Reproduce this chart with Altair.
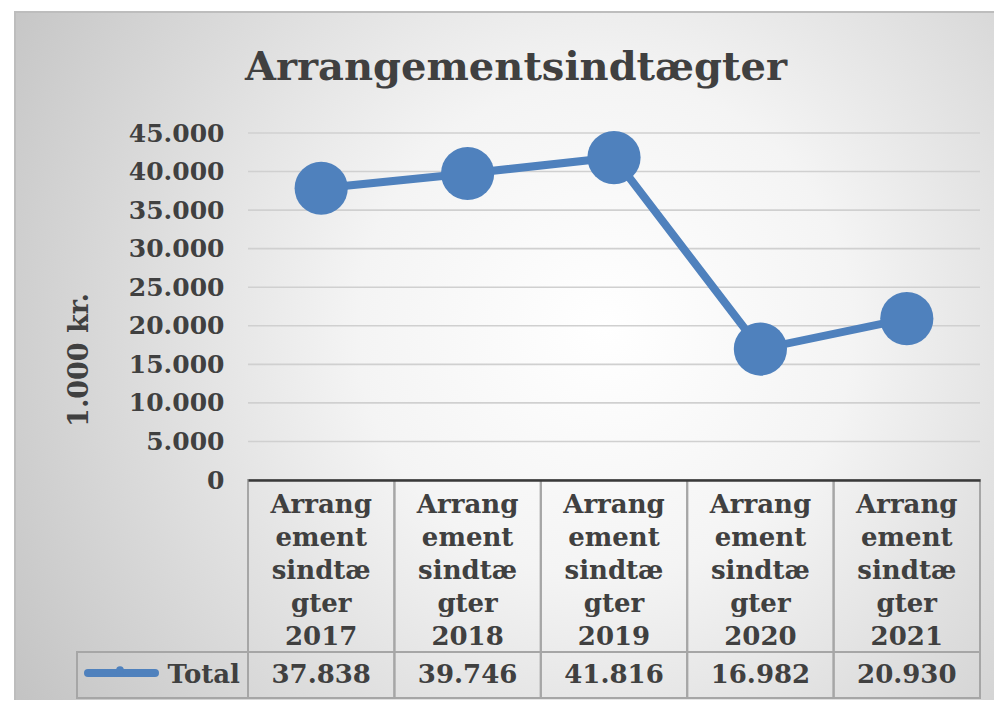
import altair as alt
import pandas as pd

# ---- data ----
years = ["2017", "2018", "2019", "2020", "2021"]
category_labels = [
    "Arrang\nement\nsindtæ\ngter\n2017",
    "Arrang\nement\nsindtæ\ngter\n2018",
    "Arrang\nement\nsindtæ\ngter\n2019",
    "Arrang\nement\nsindtæ\ngter\n2020",
    "Arrang\nement\nsindtæ\ngter\n2021",
]
values = [37838, 39746, 41816, 16982, 20930]
value_labels = ["37.838", "39.746", "41.816", "16.982", "20.930"]
y_ticks = [0, 5000, 10000, 15000, 20000, 25000, 30000, 35000, 40000, 45000]

df = pd.DataFrame({
    "year": years,
    "cat": category_labels,
    "value": values,
    "vlabel": value_labels,
})
grid_df = pd.DataFrame({"value": y_ticks[1:]})

FONT = "DejaVu Serif"
TXT = "#404040"
BLUE = "#4F81BD"
W, H = 732, 347

xs = alt.Scale(domain=years, paddingInner=0, paddingOuter=0)
ys = alt.Scale(domain=[0, 45000], nice=False)

y_axis = alt.Axis(title=None, values=y_ticks, ticks=False, domain=False,
                  grid=False, zindex=2,
                  labelFont=FONT, labelFontWeight="bold", labelFontSize=25,
                  labelColor=TXT, labelPadding=24,
                  labelExpr="replace(format(datum.value, ','), ',', '.')")
x_axis = alt.Axis(title=None, labels=False, ticks=False, zindex=2,
                  domain=True, domainColor="#3a3a3a", domainWidth=2.5)

base = alt.Chart(df)

gradient = {
    "gradient": "radial",
    "x1": 0.6, "y1": 0.47, "r1": 0,
    "x2": 0.6, "y2": 0.47, "r2": 0.72,
    "stops": [
        {"offset": 0, "color": "#ffffff"},
        {"offset": 0.35, "color": "#f4f4f4"},
        {"offset": 1, "color": "#c2c2c2"},
    ],
}

bg = alt.Chart(alt.Data(values=[{}])).mark_rect(
    fill=gradient, stroke="#bdbdbd", strokeWidth=2
).encode(
    x=alt.value(-233), x2=alt.value(750), y=alt.value(-121), y2=alt.value(570)
)

gridlines = alt.Chart(grid_df).mark_rule(color="#d0d0d0", strokeWidth=1.6).encode(
    y=alt.Y("value:Q", scale=ys, axis=y_axis),
    x=alt.value(0), x2=alt.value(W),
)

title = alt.Chart(alt.Data(values=[{"t": "Arrangementsindtægter"}])).mark_text(
    font=FONT, fontWeight="bold", fontSize=40, color=TXT,
    align="center", baseline="alphabetic"
).encode(x=alt.value(268), y=alt.value(-53), text="t:N")

ytitle = alt.Chart(alt.Data(values=[{"t": "1.000 kr."}])).mark_text(
    font=FONT, fontWeight="bold", fontSize=27, color=TXT,
    align="center", baseline="middle", angle=270
).encode(x=alt.value(-168), y=alt.value(227), text="t:N")

cells = base.mark_rect(fill="transparent", stroke="#a6a6a6", strokeWidth=2).encode(
    x=alt.X("year:N", scale=xs, sort=years, axis=x_axis),
    y=alt.value(H), y2=alt.value(565),
)

total_row = alt.Chart(alt.Data(values=[{}])).mark_rect(
    fill="transparent", stroke="#a6a6a6", strokeWidth=2
).encode(x=alt.value(-171), x2=alt.value(W), y=alt.value(519), y2=alt.value(565))

cat_text = base.mark_text(
    font=FONT, fontWeight="bold", fontSize=26, color=TXT, lineBreak="\n",
    lineHeight=33, align="center", baseline="alphabetic"
).encode(x=alt.X("year:N", scale=xs, sort=years, axis=x_axis),
         y=alt.value(380), text="cat:N")

val_text = base.mark_text(
    font=FONT, fontWeight="bold", fontSize=26, color=TXT,
    align="center", baseline="alphabetic"
).encode(x=alt.X("year:N", scale=xs, sort=years, axis=x_axis),
         y=alt.value(550), text="vlabel:N")

total_lbl = alt.Chart(alt.Data(values=[{"t": "Total"}])).mark_text(
    font=FONT, fontWeight="bold", fontSize=26, color=TXT,
    align="right", baseline="alphabetic"
).encode(x=alt.value(-8), y=alt.value(550), text="t:N")

leg_line = alt.Chart(alt.Data(values=[{}])).mark_rule(
    color=BLUE, strokeWidth=8, strokeCap="round"
).encode(x=alt.value(-160), x2=alt.value(-93), y=alt.value(540))

leg_dot = alt.Chart(alt.Data(values=[{}])).mark_circle(
    color=BLUE, opacity=1, size=60
).encode(x=alt.value(-128), y=alt.value(537))

line = base.mark_line(color=BLUE, strokeWidth=8).encode(
    x=alt.X("year:N", scale=xs, sort=years, axis=x_axis),
    y=alt.Y("value:Q", scale=ys, axis=y_axis),
)
pts = base.mark_circle(color=BLUE, opacity=1, size=2830).encode(
    x=alt.X("year:N", scale=xs, sort=years, axis=x_axis),
    y=alt.Y("value:Q", scale=ys, axis=y_axis),
)

chart = alt.layer(
    bg, gridlines, title, ytitle, cells, total_row, cat_text, val_text,
    total_lbl, leg_line, leg_dot, line, pts
).properties(
    width=W, height=H,
    autosize=alt.AutoSizeParams(type="none"),
    padding={"left": 240, "top": 125, "right": 14, "bottom": 220},
    background="white",
).configure_view(strokeWidth=0)

chart.save("out.html", embed_options={"renderer": "svg", "actions": False})
